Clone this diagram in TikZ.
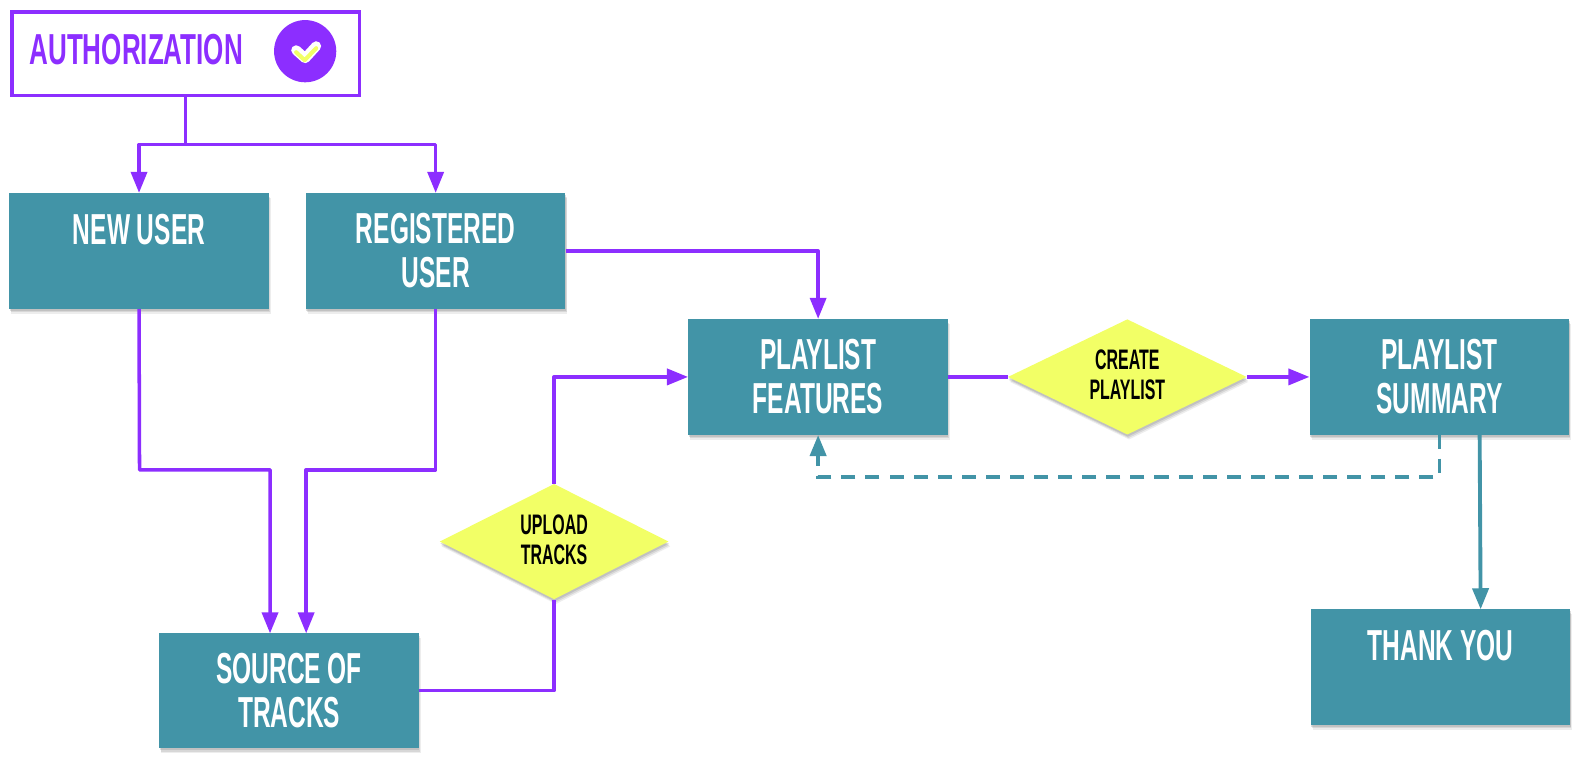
\documentclass[tikz,border=0pt]{standalone}
\usepackage{fontspec}
\setmainfont[FakeStretch=0.565]{Liberation Sans Bold}
\newfontfamily\headfont[FakeStretch=0.6]{Liberation Sans Bold}
\usetikzlibrary{arrows.meta,shapes.geometric,shadows}
\definecolor{tealbox}{RGB}{66, 148, 167}
\definecolor{violet}{RGB}{140, 46, 255}
\definecolor{lemon}{RGB}{242, 255, 102}
\tikzset{
  softshadow/.style={
      drop shadow={shadow xshift=1.0pt, shadow yshift=-2.8pt, opacity=0.14},
      drop shadow={shadow xshift=0.7pt, shadow yshift=-2.0pt, opacity=0.20},
      drop shadow={shadow xshift=0.3pt, shadow yshift=-1.2pt, opacity=0.26}},
  screen/.style={rectangle, fill=tealbox, text=white, minimum width=5.17cm, minimum height=2.3cm,
      align=center, inner sep=0pt, softshadow,
      font=\fontsize{24.6pt}{25pt}\selectfont},
  choice/.style={diamond, fill=lemon, text=black, aspect=2, inner sep=0pt, align=center, softshadow,
      text depth=2.3pt, font=\fontsize{16pt}{17pt}\selectfont},
  flow/.style={draw=violet, line width=2pt, line join=round},
  flowtip/.style={flow, -{Triangle[length=0.42cm, width=0.32cm]}},
  back/.style={draw=tealbox, line width=2.2pt, -{Triangle[length=0.42cm, width=0.32cm]}},
}
\begin{document}
\begin{tikzpicture}[x=0.02cm, y=-0.02cm]
  \useasboundingbox (0,0) rectangle (1568,759);
  % header
  \node[rectangle, draw=violet, line width=2pt, minimum width=6.92cm, minimum height=1.66cm] (auth) at (185,53.5) {};
  \node[text=violet, anchor=west, inner sep=0pt, font=\headfont\fontsize{24.6pt}{25pt}\selectfont] (authtext) at (29,49) {AUTHORIZATION};
  \node[circle, fill=violet, minimum size=1.24cm, inner sep=0pt] (badge) at (304,51) {};
  \draw[white, line width=5.6pt, line cap=round, line join=round] (295,50) -- (304,58) -- (315,46);
  \draw[lemon, line width=2.3pt, line cap=round, line join=round] (295,52) -- (303.5,60) -- (315,48);

  % screens
  \node[screen] (newuser)    at (138.5,250) {NEW USER\\~};
  \node[screen] (registered) at (434,250)   {REGISTERED\\USER};
  \node[screen] (features)   at (815,375.5) {PLAYLIST\\FEATURES};
  \node[screen] (summary)    at (1434,375.5) {PLAYLIST\\SUMMARY};
  \node[screen] (thanks)     at (1435,664.5) {THANK YOU\\~};
  \node[screen] (source)     at (288,688)   {SOURCE OF\\TRACKS};

  % decisions
  \node[choice, minimum width=4.56cm, minimum height=2.3cm] (upload) at (552,539.5) {UPLOAD\\TRACKS};
  \node[choice, minimum width=4.76cm, minimum height=2.3cm] (create) at (1123,375.5) {CREATE\\PLAYLIST};

  % free ends
  \coordinate (split)   at (185,144);
  \coordinate (mergea)  at (139,468);
  \coordinate (mergeb)  at (434,468);
  \coordinate (sourcea) at (269,631);
  \coordinate (sourceb) at (305,631);
  \coordinate (backa)   at (1434,433);
  \coordinate (backb)   at (1434,475);
  \coordinate (backc)   at (815,475);
  \coordinate (thanka)  at (1474,433);
  \coordinate (thankb)  at (1475,607);

  % connectors
  \draw[flow] (auth.south) -- (split);
  \draw[flowtip] (split) -| (newuser.north);
  \draw[flowtip] (split) -| (registered.north);
  \draw[flowtip] (newuser.south) -- (mergea) -| (sourcea);
  \draw[flowtip] (registered.south) -- (mergeb) -| (sourceb);
  \draw[flowtip] (registered.east) -| (features.north);
  \draw[flow] (source.east) -| (upload.south);
  \draw[flowtip] (upload.north) |- (features.west);
  \draw[flow] (features.east) -- (create.west);
  \draw[flowtip] (create.east) -- (summary.west);
  \draw[back] (thanka) -- (thankb);
  \draw[back, dash pattern=on 0.28cm off 0.2cm] (backa) -- (backb) -- (backc) -- (features.south);
\end{tikzpicture}
\end{document}
